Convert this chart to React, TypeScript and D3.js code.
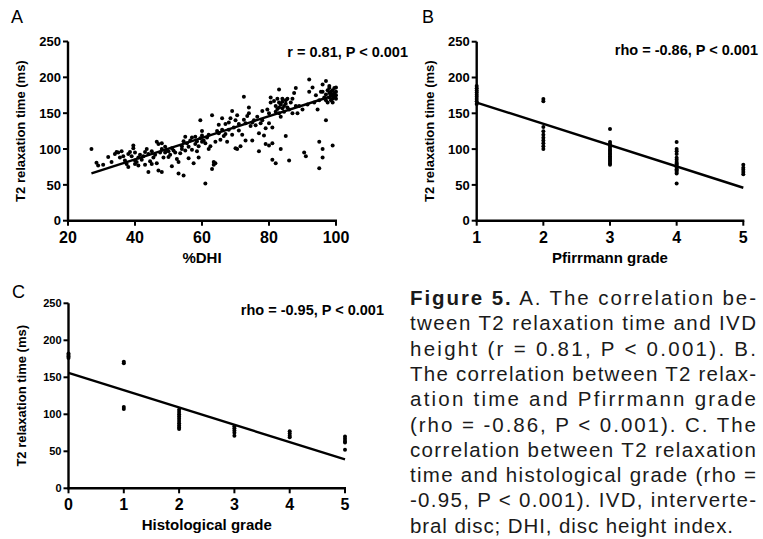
import React from 'react';
import * as d3 from 'd3';

// Panel A: %DHI vs T2 relaxation time (ms)
const dhiPoints: [number, number][] = [
  [27, 100], [28.5, 81], [29, 77], [30.5, 78], [32, 89], [33, 82], [34, 93], [34.5, 96], [35, 95], [35.5, 88],
  [36, 97], [36.5, 90], [37, 84], [37.5, 79], [38, 75], [38, 93], [38.5, 96], [39, 90], [39.5, 105], [39.5, 101],
  [40, 84], [40, 79], [40, 95], [40.5, 82], [41, 88], [41, 77], [41.5, 92], [42, 85], [42.5, 90], [43, 96],
  [43, 78], [43.5, 100], [44, 68], [44, 93], [44.5, 83], [45, 79], [45, 97], [45.5, 88], [46, 92], [46.5, 110],
  [46.5, 80], [47, 107], [47, 70], [47.5, 95], [48, 68], [48, 108], [48, 100], [48.5, 88], [49, 103], [49, 95],
  [49.5, 99], [50, 97], [50, 89], [50.5, 92], [51, 76], [51, 101], [51.5, 98], [52, 95], [52.5, 86], [53, 82],
  [53, 66], [53.5, 94], [54, 100], [54, 104], [54.5, 111], [54.5, 63], [55, 117], [55, 98], [55.5, 108], [56, 87],
  [56, 103], [56.5, 112], [57, 99], [57, 116], [57.5, 80], [58, 107], [58, 117], [58.5, 111], [58.5, 97], [59, 88],
  [59, 104], [59.5, 115], [60, 110], [60, 119], [59.5, 140], [60, 125], [60.5, 112], [61, 52], [61, 108], [61.5, 116],
  [62, 120], [62, 100], [62.5, 104], [63, 147], [63, 72], [63.5, 78], [63.5, 82], [64, 80], [64, 110], [64.5, 125],
  [65, 134], [65, 122], [65.5, 113], [66, 143], [66, 127], [66.5, 118], [67, 135], [67, 121], [67.5, 110], [68, 137],
  [68, 127], [68.5, 143], [69, 153], [69, 120], [69.5, 130], [70, 101], [70, 140], [70.5, 147], [70.5, 100], [71, 135],
  [71, 126], [71.5, 104], [72, 120], [72.5, 173], [72.5, 141], [73, 136], [73, 112], [73.5, 146], [74, 150], [74, 158],
  [74.5, 132], [75, 137], [75, 112], [75.5, 140], [76, 133], [76.5, 145], [77, 97], [77, 122], [77.5, 136], [78, 153],
  [78, 140], [78.5, 119], [79, 107], [79, 129], [79.5, 155], [80, 105], [80, 150], [80, 136], [80.5, 172], [80.5, 165],
  [81, 108], [81, 85], [81, 130], [81.5, 167], [82, 160], [82, 80], [82, 152], [82.5, 156], [82.5, 170], [83, 158],
  [83, 165], [83, 150], [83, 183], [83.5, 162], [83.5, 145], [83.5, 100], [84, 166], [84, 157], [84, 170], [84.5, 160],
  [84.5, 152], [85, 168], [85, 163], [85, 118], [85.5, 170], [85.5, 158], [86, 155], [86, 84], [86.5, 165], [87, 150],
  [87, 170], [87.5, 178], [88, 185], [88, 160], [88.5, 150], [89, 160], [90, 155], [90.5, 95], [91, 90], [91.5, 162],
  [92, 197], [92, 180], [93, 186], [93.5, 165], [94, 175], [94.5, 155], [95, 110], [95, 73], [95, 168], [95.5, 180],
  [96, 100], [96, 88], [96, 180], [96, 190], [96.5, 172], [97, 140], [97, 195], [97, 176], [97, 168], [97.5, 182],
  [97.5, 165], [98, 185], [98, 178], [98, 172], [98, 188], [98.5, 175], [98.5, 168], [98.5, 180], [99, 105], [99, 182],
  [99, 176], [99, 170], [99, 165], [99.5, 185], [99.5, 178], [99.5, 172], [100, 180], [100, 175], [100, 170], [100, 186],
];
const dhiFit: [number, number][] = [[27, 66], [99.5, 175]];

// Panel B: Pfirrmann grade
const pfirrmannPoints: [number, number][] = [
  [1, 163], [1, 167], [1, 170], [1, 173], [1, 176], [1, 179], [1, 182], [1, 185], [1, 188],
  [2, 170], [2, 167], [2, 131], [2, 125], [2, 120], [2, 116], [2, 112], [2, 108], [2, 104], [2, 100],
  [3, 128], [3, 110], [3, 107], [3, 105], [3, 103], [3, 100], [3, 98], [3, 96], [3, 94], [3, 92], [3, 90], [3, 88],
  [3, 86], [3, 84], [3, 82], [3, 80], [3, 78],
  [4, 110], [4, 100], [4, 97], [4, 93], [4, 88], [4, 85], [4, 82], [4, 80], [4, 78], [4, 76], [4, 74], [4, 72],
  [4, 70], [4, 68], [4, 66], [4, 52],
  [5, 78], [5, 74], [5, 71], [5, 68], [5, 65],
];
const pfirrmannFit: [number, number][] = [[1, 165], [5, 46]];

// Panel C: histological grade
const histoPoints: [number, number][] = [
  [0, 176], [0, 178], [0, 180], [0, 182],
  [1, 169], [1, 171], [1, 107], [1, 110],
  [2, 106], [2, 103], [2, 100], [2, 97], [2, 94], [2, 91], [2, 88], [2, 85], [2, 82], [2, 80],
  [3, 84], [3, 81], [3, 78], [3, 75], [3, 71],
  [4, 77], [4, 74], [4, 71], [4, 69],
  [5, 70], [5, 67], [5, 64], [5, 62], [5, 52],
];
const histoFit: [number, number][] = [[0, 156], [5, 39]];

const yTicks = [0, 50, 100, 150, 200, 250];
const dhiTicks = [20, 40, 60, 80, 100];
const pfirrmannTicks = [1, 2, 3, 4, 5];
const histoTicks = [0, 1, 2, 3, 4, 5];

const captionLines = [
  'tween T2 relaxation time and IVD',
  'height (r = 0.81, P < 0.001). B.',
  'The correlation between T2 relax-',
  'ation time and Pfirrmann grade',
  '(rho = -0.86, P < 0.001). C. The',
  'correlation between T2 relaxation',
  'time and histological grade (rho =',
  '-0.95, P < 0.001). IVD, interverte-',
  'bral disc; DHI, disc height index.',
];

const AXIS_FONT = '"Liberation Sans", Arial, sans-serif';

type PanelProps = {
  letter: string;
  letterPos: [number, number];
  box: { left: number; right: number; top: number; bottom: number };
  xDomain: [number, number];
  xTicks: number[];
  xTitle: string;
  points: [number, number][];
  fit: [number, number][];
  stat: string;
  statPos: [number, number];
  yTickSize: number;
};

const Panel = ({ letter, letterPos, box, xDomain, xTicks, xTitle, points, fit, stat, statPos, yTickSize }: PanelProps) => {
  const x = d3.scaleLinear().domain(xDomain).range([box.left, box.right]);
  const y = d3.scaleLinear().domain([0, 250]).range([box.bottom, box.top]);
  const line = d3.line<[number, number]>().x(d => x(d[0])).y(d => y(d[1]));
  const midY = (box.top + box.bottom) / 2;

  return (
    <g fontFamily={AXIS_FONT} fontWeight="bold" fill="#000">
      <text x={letterPos[0]} y={letterPos[1]} fontSize={18} fontWeight="normal">{letter}</text>

      {points.map((d, i) => (
        <circle key={i} cx={x(d[0])} cy={y(d[1])} r={2} fill="#000" />
      ))}
      <path d={line(fit) || ''} stroke="#000" strokeWidth={2.4} fill="none" />

      {/* y axis */}
      <line x1={box.left} x2={box.left} y1={box.top} y2={box.bottom + 1} stroke="#000" strokeWidth={2.4} />
      {yTicks.map(t => (
        <g key={t}>
          <line x1={box.left - 5} x2={box.left} y1={y(t)} y2={y(t)} stroke="#000" strokeWidth={2} />
          <text x={box.left - 7} y={y(t)} dy="0.36em" textAnchor="end" fontSize={yTickSize}>{t}</text>
        </g>
      ))}
      <text transform={`translate(${box.left - 43},${midY}) rotate(-90)`} textAnchor="middle" fontSize={13}>
        T2 relaxation time (ms)
      </text>

      {/* x axis */}
      <line x1={box.left - 1} x2={box.right + 1} y1={box.bottom} y2={box.bottom} stroke="#000" strokeWidth={2.4} />
      {xTicks.map(t => (
        <g key={t}>
          <line x1={x(t)} x2={x(t)} y1={box.bottom} y2={box.bottom + 5} stroke="#000" strokeWidth={2} />
          <text x={x(t)} y={box.bottom + 22} textAnchor="middle" fontSize={16}>{t}</text>
        </g>
      ))}
      <text x={(box.left + box.right) / 2} y={box.bottom + 42} textAnchor="middle" fontSize={15}>{xTitle}</text>

      <text x={statPos[0]} y={statPos[1]} textAnchor="end" fontSize={14.5}>{stat}</text>
    </g>
  );
};

export default function App() {
  const capX = 410;
  const capW = 346;
  const capY0 = 305;
  const capDy = 25.3;
  return (
    <svg width={763} height={539} style={{ display: 'block', position: 'absolute', left: 0, top: 0 }}>
      <rect width={763} height={539} fill="#fff" />
      <Panel
        letter="A" letterPos={[11, 23]}
        box={{ left: 68, right: 336, top: 41.5, bottom: 220.7 }}
        xDomain={[20, 100]} xTicks={dhiTicks} xTitle="%DHI"
        points={dhiPoints} fit={dhiFit}
        stat="r = 0.81, P < 0.001" statPos={[408, 56.5]} yTickSize={13}
      />
      <Panel
        letter="B" letterPos={[422, 23]}
        box={{ left: 476.7, right: 743.3, top: 41.7, bottom: 220.7 }}
        xDomain={[1, 5]} xTicks={pfirrmannTicks} xTitle="Pfirrmann grade"
        points={pfirrmannPoints} fit={pfirrmannFit}
        stat="rho = -0.86, P < 0.001" statPos={[758, 55]} yTickSize={13}
      />
      <Panel
        letter="C" letterPos={[12, 298]}
        box={{ left: 68.5, right: 345, top: 303.3, bottom: 488.3 }}
        xDomain={[0, 5]} xTicks={histoTicks} xTitle="Histological grade"
        points={histoPoints} fit={histoFit}
        stat="rho = -0.95, P < 0.001" statPos={[384, 315]} yTickSize={11}
      />

      <g fontFamily='"Liberation Sans", Arial, sans-serif' fontSize={20.5} fill="#1a1a1a">
        <text x={capX} y={capY0} textLength={capW} lengthAdjust="spacing">
          <tspan fontWeight="bold">Figure 5.</tspan> A. The correlation be-
        </text>
        {captionLines.map((l, i) => (
          <text
            key={i}
            x={capX}
            y={capY0 + capDy * (i + 1)}
            textLength={i === captionLines.length - 1 ? 323 : capW}
            lengthAdjust="spacing"
          >
            {l}
          </text>
        ))}
      </g>
    </svg>
  );
}
